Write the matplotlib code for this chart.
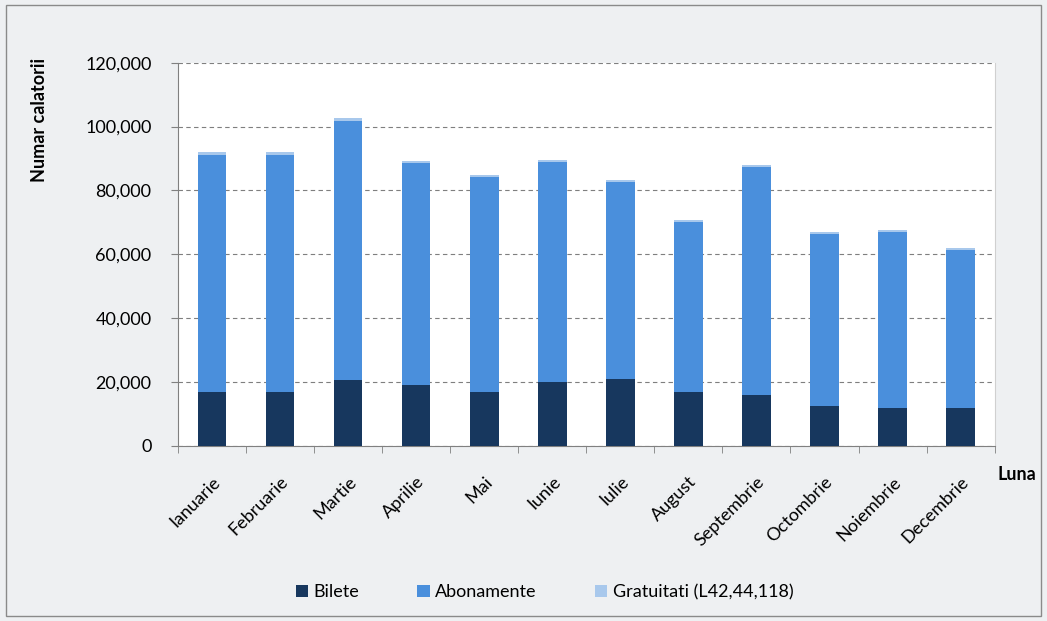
import matplotlib
matplotlib.use("Agg")
import matplotlib.pyplot as plt
import numpy as np
from matplotlib.patches import Rectangle
from matplotlib.ticker import FuncFormatter

plt.rcParams['font.family'] = ['Lato', 'DejaVu Sans']

luni = ['Ianuarie', 'Februarie', 'Martie', 'Aprilie', 'Mai', 'Iunie', 'Iulie',
        'August', 'Septembrie', 'Octombrie', 'Noiembrie', 'Decembrie']
totaluri = [92000, 92000, 102800, 89300, 84900, 89600, 83300, 70800, 88000, 67000, 67700, 62000]
bilete = [17000, 17000, 20500, 19000, 17000, 20000, 21000, 17000, 16000, 12500, 12000, 12000]
gratuitati = [800, 800, 900, 800, 800, 800, 800, 700, 800, 700, 700, 700]
abonamente = [t - b - g for t, b, g in zip(totaluri, bilete, gratuitati)]

fig = plt.figure(figsize=(10.47, 6.21), dpi=100)
fig.patch.set_facecolor('#eef0f2')
# cadru grafic
fig.patches.append(Rectangle((0.006, 0.008), 0.988, 0.984, transform=fig.transFigure,
                             fill=False, edgecolor='#8a8a8a', linewidth=1))

ax = fig.add_axes([0.170, 0.282, 0.780, 0.617])
ax.set_facecolor('white')

x = np.arange(len(luni))
w = 0.42
ax.bar(x, bilete, w, color='#17375e', label='Bilete', zorder=3)
ax.bar(x, abonamente, w, bottom=bilete, color='#4a8fdc', label='Abonamente', zorder=3)
ax.bar(x, gratuitati, w, bottom=np.array(bilete) + np.array(abonamente),
       color='#a8c8ec', label='Gratuitati (L42,44,118)', zorder=3)

ax.set_ylim(0, 120000)
ax.set_xlim(-0.5, len(luni) - 0.5)
ax.set_yticks(np.arange(0, 120001, 20000))
ax.yaxis.set_major_formatter(FuncFormatter(lambda v, p: f'{int(v):,}'))
ax.grid(axis='y', linestyle=(0, (4, 3)), color='#7f7f7f', linewidth=0.8, zorder=0)

ax.set_xticks(x)
ax.set_xticklabels(luni, rotation=45, ha='right', rotation_mode='anchor', fontsize=13)
ax.set_xticks(np.arange(-0.5, len(luni), 1), minor=True)
ax.tick_params(axis='x', which='major', length=0, pad=20)
ax.tick_params(axis='x', which='minor', length=5, color='#808080')
ax.tick_params(axis='y', labelsize=13, length=5, color='#808080', pad=14)

ax.spines['top'].set_visible(False)
ax.spines['right'].set_color('#d0d0d0')
ax.spines['left'].set_color('#808080')
ax.spines['bottom'].set_color('#808080')

fig.text(0.038, 0.907, 'Numar calatorii', fontsize=13, fontweight='bold',
         rotation=90, ha='center', va='top')
fig.text(0.953, 0.236, 'Luna', fontsize=13, fontweight='bold', ha='left', va='center')

fig.legend(loc='center', bbox_to_anchor=(0.52, 0.046), ncol=3, frameon=False,
           fontsize=13, handlelength=0.7, handleheight=0.7, columnspacing=3.2,
           handletextpad=0.3)

fig.savefig('out.png', dpi=100, facecolor=fig.get_facecolor())
